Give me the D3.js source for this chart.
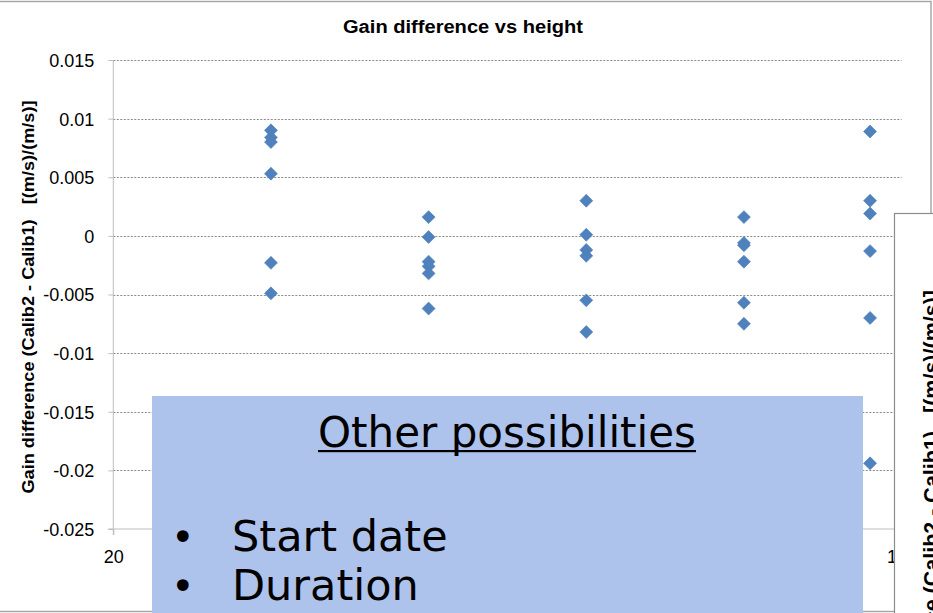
<!DOCTYPE html>
<html><head><meta charset="utf-8">
<script src="https://cdn.jsdelivr.net/npm/d3@7"></script>
<style>html,body{margin:0;padding:0;background:#fff;overflow:hidden}svg{display:block}text{white-space:pre}</style>
</head><body>
<svg id="c" width="933" height="613"></svg>
<script>
// ---- data ----
const heights = [40, 60, 80, 100, 116];
const gain40  = [0.0090, 0.0084, 0.0080, 0.0053, -0.0023, -0.0049];
const gain60  = [0.0016, -0.0001, -0.0022, -0.0026, -0.0032, -0.0062];
const gain80  = [0.0030, 0.0001, -0.0012, -0.0017, -0.0055, -0.0082];
const gain100 = [0.0016, -0.0006, -0.0008, -0.0022, -0.0057, -0.0075];
const gain116 = [0.0089, 0.0030, 0.0019, -0.0013, -0.0070, -0.0194];
const yTicks = [0.015, 0.01, 0.005, 0, -0.005, -0.01, -0.015, -0.02, -0.025];
const yTickLabels = ["0.015","0.01","0.005","0","-0.005","-0.01","-0.015","-0.02","-0.025"];
const xTicks = [20, 40, 60, 80, 100, 120];
const xTickLabels = ["20","40","60","80","100","120"];
const title = "Gain difference vs height";
const yTitle = "Gain difference (Calib2 - Calib1)\u00a0\u00a0\u00a0[(m/s)/(m/s)]";
const boxTitle = "Other possibilities";
const bullets = ["Start date", "Duration"];

const groups = [gain40, gain60, gain80, gain100, gain116];
const points = [];
groups.forEach((g, i) => g.forEach(v => points.push({x: heights[i], y: v})));

const svg = d3.select("#c");
const L = 113.3, R = 901.6, T = 60, B = 529;
const x = d3.scaleLinear().domain([20, 120]).range([L, R]);
const y = d3.scaleLinear().domain([-0.025, 0.015]).range([B, T]);
const sans = "Liberation Sans, Arial, sans-serif";

// outer chart border
svg.append("rect").attr("x", -2).attr("y", 1.5).attr("width", 933).attr("height", 610)
  .attr("fill", "#fff").attr("stroke", "#a3a3a3").attr("stroke-width", 1.4);

// title
svg.append("text").attr("x", 463).attr("y", 33).attr("text-anchor", "middle")
  .attr("font-family", sans).attr("font-weight", "bold")
  .attr("font-size", 18).attr("textLength", 240).attr("lengthAdjust", "spacingAndGlyphs")
  .attr("fill", "#000").text(title);

// gridlines
svg.append("g").selectAll("line").data(yTicks.filter(d => d > -0.025)).join("line")
  .attr("x1", L).attr("x2", R).attr("y1", d => Math.round(y(d)) + 0.5).attr("y2", d => Math.round(y(d)) + 0.5)
  .attr("stroke", "#8a8a8a").attr("stroke-width", 1).attr("stroke-dasharray", "2,1.5");

// y axis
const yAxis = d3.axisLeft(y).tickValues(yTicks).tickSize(5).tickPadding(14)
  .tickFormat((d, i) => yTickLabels[i]);
const gy = svg.append("g").attr("transform", `translate(${L},0)`).call(yAxis);
gy.select(".domain").attr("stroke", "#bdbdbd").attr("d", `M0,${T}V${B + 6}`);
gy.selectAll(".tick line").attr("stroke", "#bdbdbd");
gy.selectAll(".tick text").attr("font-family", sans)
  .attr("font-size", 18).attr("fill", "#000").attr("dy", "0.36em");

// x axis
const xAxis = d3.axisBottom(x).tickValues(xTicks).tickSize(6).tickPadding(15)
  .tickFormat((d, i) => xTickLabels[i]);
const gx = svg.append("g").attr("transform", `translate(0,${B})`).call(xAxis);
gx.select(".domain").attr("stroke", "#bdbdbd").attr("d", `M${L - 5},0H${R}`);
gx.selectAll(".tick line").attr("stroke", "#bdbdbd");
gx.selectAll(".tick text").attr("font-family", sans)
  .attr("font-size", 18).attr("fill", "#000");

// y title
svg.append("text").attr("transform", `translate(34,${297}) rotate(-90)`)
  .attr("text-anchor", "middle").attr("font-family", sans)
  .attr("font-weight", "bold").attr("font-size", 16).attr("textLength", 393)
  .attr("lengthAdjust", "spacingAndGlyphs").attr("fill", "#000").text(yTitle);

// points (diamonds)
const sym = d3.symbol().type(d3.symbolSquare).size(84);
svg.append("g").selectAll("path").data(points).join("path")
  .attr("d", sym).attr("transform", d => `translate(${x(d.x)},${y(d.y)}) rotate(45)`)
  .attr("fill", "#4f81bd").attr("stroke", "#4f81bd").attr("stroke-width", 0.6);

// overlay blue box
const box = svg.append("g");
box.append("rect").attr("x", 152).attr("y", 396).attr("width", 711).attr("height", 220).attr("fill", "#aec3eb");
const bt = box.append("text").attr("x", 507).attr("y", 447).attr("text-anchor", "middle")
  .attr("font-family", "DejaVu Sans, Verdana, sans-serif").attr("font-size", 42)
  .attr("fill", "#000").text(boxTitle);
const bb = bt.node().getBBox();
box.append("rect").attr("x", bb.x).attr("y", 450).attr("width", bb.width).attr("height", 2.2).attr("fill", "#000");
bullets.forEach((b, i) => {
  box.append("text").attr("x", 171).attr("y", 551 + i * 49)
    .attr("font-family", "DejaVu Sans, Verdana, sans-serif").attr("font-size", 40).attr("fill", "#000").text("\u2022");
  box.append("text").attr("x", 232).attr("y", 551 + i * 49)
    .attr("font-family", "DejaVu Sans, Verdana, sans-serif").attr("font-size", 43).attr("fill", "#000").text(b);
});

// overlapping second chart at right
const c2 = svg.append("g");
c2.append("rect").attr("x", 894.5).attr("y", 213.5).attr("width", 100).attr("height", 500)
  .attr("fill", "#fff").attr("stroke", "#8c8c8c").attr("stroke-width", 1.2);
c2.append("text").attr("transform", "translate(939,290) rotate(-90)")
  .attr("text-anchor", "end").attr("font-family", sans)
  .attr("font-weight", "bold").attr("font-size", 21.5).attr("fill", "#000").text(yTitle);
</script>
</body></html>
